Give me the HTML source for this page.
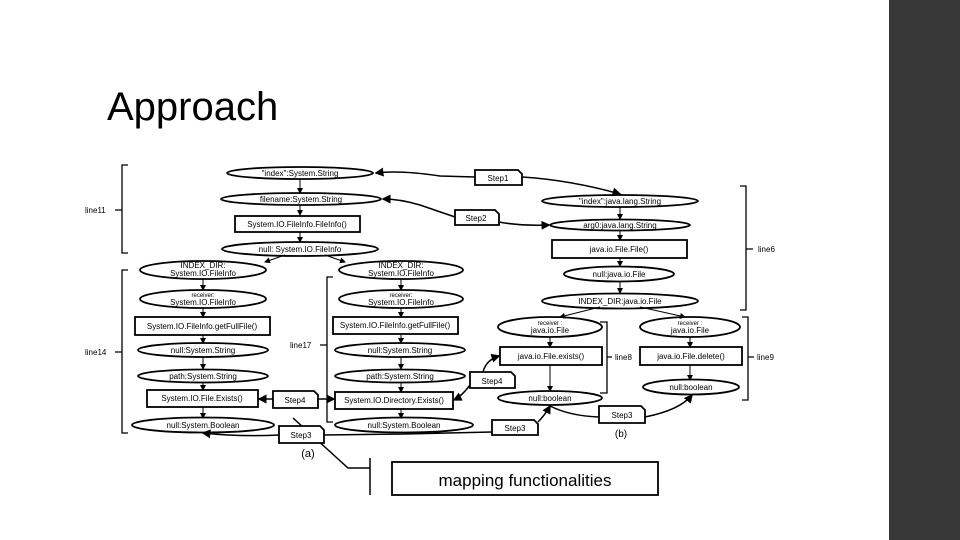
<!DOCTYPE html>
<html><head><meta charset="utf-8"><style>
html,body{margin:0;padding:0;background:#fff}
svg{display:block}
text{font-family:"Liberation Sans",sans-serif;fill:#000}
.s{font-size:8px}
</style></head><body>
<svg width="960" height="540" viewBox="0 0 960 540" xmlns="http://www.w3.org/2000/svg">
<defs><marker id="a" markerWidth="6" markerHeight="6" refX="5" refY="3" orient="auto"><path d="M0,0L6,3L0,6z" fill="#000"/></marker></defs>
<rect x="889" y="0" width="71" height="540" fill="#383838"/>
<text x="107" y="120" font-size="40" fill="#111">Approach</text>
<g fill="none" stroke="#000" stroke-width="1.3">
<!-- brackets -->
<path d="M128,165H122V253H128M122,210H115"/>
<path d="M128,270H122V433H128M122,352H115"/>
<path d="M333,277H327V422H333M327,345H320"/>
<path d="M740,186H746V310H740M746,249H753"/>
<path d="M600,322H607V393H600M607,357H612"/>
<path d="M742,317H748V400H742M748,357H754"/>
<!-- vertical edges -->
<g marker-end="url(#a)" stroke-width="1">
<path d="M300,179V193"/><path d="M300,205V215"/><path d="M300,232V242"/>
<path d="M285,255L265,262"/><path d="M325,255L345,262"/>
<path d="M203,279V290"/><path d="M401,279V290"/>
<path d="M203,308V317"/><path d="M401,308V317"/>
<path d="M203,335V343"/><path d="M401,335V343"/>
<path d="M203,357V369"/><path d="M401,357V369"/>
<path d="M203,383V390"/><path d="M401,383V392"/>
<path d="M203,407V418"/><path d="M401,409V418"/>
<path d="M620,207V219"/><path d="M620,231V240"/><path d="M620,258V266"/><path d="M620,282V293"/>
<path d="M600,307L560,317"/><path d="M640,307L685,317"/>
<path d="M550,337V347"/><path d="M550,365V391"/>
<path d="M690,337V347"/><path d="M690,365V380"/>
</g>
<!-- step connectors -->
<g stroke-width="1.5">
<path d="M475,177L440,176Q400,170 376,173" marker-end="url(#a)"/>
<path d="M522,177Q570,180 620,194" marker-end="url(#a)"/>
<path d="M455,217L420,205Q400,199 383,199" marker-end="url(#a)"/>
<path d="M499,222Q520,226 549,225" marker-end="url(#a)"/>
<path d="M273,399H259" marker-end="url(#a)"/>
<path d="M318,399H334" marker-end="url(#a)"/>
<path d="M483,372Q486,360 499,356" marker-end="url(#a)"/>
<path d="M470,385Q462,396 454,400" marker-end="url(#a)"/>
<path d="M279,435Q240,437 203,433" marker-end="url(#a)"/>
<path d="M324,435L404,434M404,434L492,432"/>
<path d="M538,422Q545,415 550,406" marker-end="url(#a)"/>
<path d="M599,417Q570,416 550,406"/>
<path d="M645,417Q680,410 692,395" marker-end="url(#a)"/>
<path d="M293,418L348,468H370M370,458V495"/>
</g>
<!-- ellipses -->
<g stroke-width="1.8">
<ellipse cx="300" cy="173" rx="73" ry="6"/>
<ellipse cx="301" cy="199" rx="80" ry="6"/>
<ellipse cx="300" cy="249" rx="78" ry="7"/>
<ellipse cx="203" cy="270" rx="63" ry="9"/>
<ellipse cx="401" cy="270" rx="62" ry="9"/>
<ellipse cx="203" cy="299" rx="63" ry="9"/>
<ellipse cx="401" cy="299" rx="62" ry="9"/>
<ellipse cx="203" cy="350" rx="65" ry="7"/>
<ellipse cx="400" cy="350" rx="65" ry="7"/>
<ellipse cx="203" cy="376" rx="65" ry="6.5"/>
<ellipse cx="400" cy="376" rx="65" ry="6.5"/>
<ellipse cx="203" cy="425" rx="71" ry="7.5"/>
<ellipse cx="404" cy="425" rx="69" ry="7.5"/>
<ellipse cx="620" cy="201" rx="78" ry="6"/>
<ellipse cx="620" cy="225" rx="70" ry="5.5"/>
<ellipse cx="619" cy="274" rx="55" ry="7.5"/>
<ellipse cx="620" cy="301" rx="78" ry="7.5"/>
<ellipse cx="550" cy="327" rx="52" ry="10"/>
<ellipse cx="690" cy="327" rx="50" ry="10"/>
<ellipse cx="550" cy="398" rx="52" ry="7"/>
<ellipse cx="691" cy="387" rx="48" ry="7.5"/>
</g>
<!-- rects -->
<g stroke-width="1.8" fill="#fff">
<rect x="235" y="216" width="125" height="16"/>
<rect x="135" y="317" width="135" height="18"/>
<rect x="333" y="317" width="125" height="17"/>
<rect x="147" y="390" width="111" height="17"/>
<rect x="335" y="392" width="118" height="17"/>
<rect x="552" y="240" width="135" height="18"/>
<rect x="500" y="347" width="102" height="18"/>
<rect x="640" y="347" width="102" height="18"/>
<rect x="392" y="462" width="266" height="33"/>
</g>
<!-- step boxes -->
<g stroke-width="1.8" fill="#fff">
<path d="M475,185V170H518L522,174V185Z"/>
<path d="M455,225V210H495L499,214V225Z"/>
<path d="M273,408V391H314L318,395V408Z"/>
<path d="M279,443V426H320L324,430V443Z"/>
<path d="M470,388V372H511L515,376V388Z"/>
<path d="M492,435V420H534L538,424V435Z"/>
<path d="M599,423V406H641L645,410V423Z"/>
</g>
</g>
<g class="s" text-anchor="middle">
<text x="300" y="176">"index":System.String</text>
<text x="301" y="202">filename:System.String</text>
<text x="297" y="227">System.IO.FileInfo.FileInfo()</text>
<text x="300" y="252">null: System.IO.FileInfo</text>
<text x="203" y="268">INDEX_DIR:</text><text x="203" y="276">System.IO.FileInfo</text>
<text x="401" y="268">INDEX_DIR:</text><text x="401" y="276">System.IO.FileInfo</text>
<text x="203" y="297" font-size="6">receiver:</text><text x="203" y="305">System.IO.FileInfo</text>
<text x="401" y="297" font-size="6">receiver:</text><text x="401" y="305">System.IO.FileInfo</text>
<text x="202" y="329">System.IO.FileInfo.getFullFile()</text>
<text x="395" y="328">System.IO.FileInfo.getFullFile()</text>
<text x="203" y="353">null:System.String</text>
<text x="400" y="353">null:System.String</text>
<text x="203" y="379">path:System.String</text>
<text x="400" y="379">path:System.String</text>
<text x="202" y="401">System.IO.File.Exists()</text>
<text x="394" y="403">System.IO.Directory.Exists()</text>
<text x="203" y="428">null:System.Boolean</text>
<text x="404" y="428">null:System.Boolean</text>
<text x="620" y="204">"index":java.lang.String</text>
<text x="620" y="228">arg0:java.lang.String</text>
<text x="619" y="252">java.io.File.File()</text>
<text x="619" y="277">null:java.io.File</text>
<text x="620" y="304">INDEX_DIR:java.io.File</text>
<text x="550" y="325" font-size="6">receiver :</text><text x="550" y="333">java.io.File</text>
<text x="690" y="325" font-size="6">receiver :</text><text x="690" y="333">java.io.File</text>
<text x="551" y="359">java.io.File.exists()</text>
<text x="691" y="359">java.io.File.delete()</text>
<text x="550" y="401">null:boolean</text>
<text x="691" y="390">null:boolean</text>
<text x="498" y="181">Step1</text>
<text x="476" y="221">Step2</text>
<text x="295" y="403">Step4</text>
<text x="301" y="438">Step3</text>
<text x="492" y="384">Step4</text>
<text x="515" y="431">Step3</text>
<text x="622" y="418">Step3</text>
<text x="308" y="457" font-size="11">(a)</text>
<text x="621" y="437" font-size="10">(b)</text>
<text x="525" y="486" font-size="17">mapping functionalities</text>
</g>
<g class="s">
<text x="85" y="213">line11</text>
<text x="85" y="355">line14</text>
<text x="290" y="348">line17</text>
<text x="758" y="252">line6</text>
<text x="615" y="360">line8</text>
<text x="757" y="360">line9</text>
</g>
</svg>
</body></html>
